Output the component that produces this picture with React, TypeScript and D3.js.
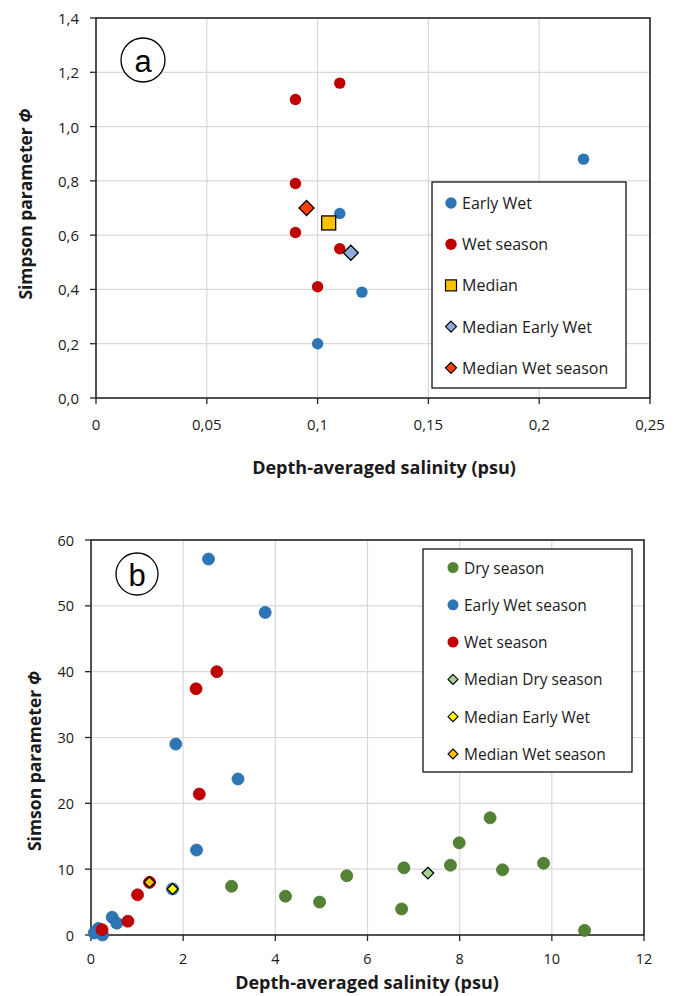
import React, { useEffect, useRef } from "react";
import * as d3 from "d3";

// ── Panel a data: [salinity, simpson] ─────────────────────────────────
const aEarlyWet = [[0.22, 0.88], [0.11, 0.68], [0.12, 0.39], [0.10, 0.20]];
const aWet = [[0.09, 1.10], [0.11, 1.16], [0.09, 0.79], [0.09, 0.61], [0.11, 0.55], [0.10, 0.41]];
const aMedian = [[0.105, 0.645]];
const aMedianEarlyWet = [[0.115, 0.535]];
const aMedianWet = [[0.095, 0.70]];
const aXTicks = [0, 0.05, 0.1, 0.15, 0.2, 0.25];
const aYTicks = [0, 0.2, 0.4, 0.6, 0.8, 1.0, 1.2, 1.4];

// ── Panel b data ──────────────────────────────────────────────────────
const bDry = [[3.05, 7.4], [4.22, 5.9], [4.96, 5.0], [5.55, 9.0], [6.79, 10.2], [6.74, 3.95],
  [7.80, 10.6], [7.99, 14.0], [8.66, 17.8], [8.93, 9.9], [9.82, 10.9], [10.71, 0.7]];
const bEarlyWet = [[2.55, 57.1], [3.78, 49.0], [1.84, 29.0], [3.19, 23.7], [2.29, 12.9], [0.46, 2.7],
  [0.56, 1.8], [0.16, 1.0], [0.07, 0.3], [0.25, 0.0], [1.77, 7.0]];
const bWet = [[2.73, 40.0], [2.28, 37.4], [2.35, 21.4], [1.01, 6.1], [0.80, 2.1], [0.24, 0.8], [1.27, 8.0]];
const bMedianDry = [[7.31, 9.4]];
const bMedianEarlyWet = [[1.77, 7.0]];
const bMedianWet = [[1.27, 8.0]];
const bXTicks = [0, 2, 4, 6, 8, 10, 12];
const bYTicks = [0, 10, 20, 30, 40, 50, 60];

const BLUE = "#2E75B6";
const RED = "#C00000";
const GREEN = "#548235";
const FONT = "'Open Sans', sans-serif";
const GRID = "#D9D9D9";
const AXIS = "#262626";

const comma = (v: number) => String(v).replace(".", ",");
const comma1 = (v: number) => v.toFixed(1).replace(".", ",");

const diamond = (s: number) => `M0,${-s}L${s},0L0,${s}L${-s},0Z`;

const App = () => {
  const svgRef = useRef<SVGSVGElement>(null);

  useEffect(() => {
    if (!svgRef.current) return;
    const svg = d3.select(svgRef.current);
    svg.selectAll("*").remove();

    const drawFrame = (x: any, y: any, xt: number[], yt: number[], fx: (v: number) => string,
      fy: (v: number) => string, tickFs: number, xLabY: number, yLabX: number) => {
      const [x0, x1] = x.range();
      const [y0, y1] = y.range();
      const g = svg.append("g");
      xt.slice(1).forEach(t => g.append("line").attr("x1", x(t)).attr("x2", x(t)).attr("y1", y0).attr("y2", y1)
        .attr("stroke", GRID).attr("stroke-width", 1.2));
      yt.slice(1).forEach(t => g.append("line").attr("x1", x0).attr("x2", x1).attr("y1", y(t)).attr("y2", y(t))
        .attr("stroke", GRID).attr("stroke-width", 1.2));
      // frame
      g.append("rect").attr("x", x0).attr("y", y1).attr("width", x1 - x0).attr("height", y0 - y1)
        .attr("fill", "none").attr("stroke", AXIS).attr("stroke-width", 1.6);
      xt.forEach(t => {
        g.append("line").attr("x1", x(t)).attr("x2", x(t)).attr("y1", y0).attr("y2", y0 + 6)
          .attr("stroke", AXIS).attr("stroke-width", 1.3);
        g.append("text").attr("x", x(t)).attr("y", xLabY).attr("text-anchor", "middle")
          .attr("dominant-baseline", "central").attr("font-family", FONT).attr("font-size", tickFs)
          .attr("fill", "#1a1a1a").text(fx(t));
      });
      yt.forEach(t => {
        g.append("line").attr("x1", x0 - 6).attr("x2", x0).attr("y1", y(t)).attr("y2", y(t))
          .attr("stroke", AXIS).attr("stroke-width", 1.3);
        g.append("text").attr("x", yLabX).attr("y", y(t)).attr("text-anchor", "end")
          .attr("dominant-baseline", "central").attr("font-family", FONT).attr("font-size", tickFs)
          .attr("fill", "#1a1a1a").text(fy(t));
      });
    };

    const dots = (x: any, y: any, data: number[][], color: string, r: number, stroke?: string) => {
      data.forEach(([a, b]) => svg.append("circle").attr("cx", x(a)).attr("cy", y(b)).attr("r", r)
        .attr("fill", color).attr("stroke", stroke ?? "none").attr("stroke-width", 0.8));
    };
    const diamonds = (x: any, y: any, data: number[][], color: string, s: number) => {
      data.forEach(([a, b]) => svg.append("path").attr("d", diamond(s))
        .attr("transform", `translate(${x(a)},${y(b)})`)
        .attr("fill", color).attr("stroke", "#000").attr("stroke-width", 1.3));
    };

    const titleY = (txt: string, cx: number, cy: number) => {
      const t = svg.append("text").attr("transform", `translate(${cx},${cy}) rotate(-90)`)
        .attr("text-anchor", "middle").attr("dominant-baseline", "central")
        .attr("font-family", FONT).attr("font-size", 17.5).attr("font-weight", 700).attr("fill", "#1a1a1a");
      t.append("tspan").text(txt + " ");
      t.append("tspan").attr("font-style", "italic").text("Φ");
    };
    const titleX = (txt: string, cx: number, cy: number) => {
      svg.append("text").attr("x", cx).attr("y", cy).attr("text-anchor", "middle")
        .attr("dominant-baseline", "central").attr("font-family", FONT).attr("font-size", 18)
        .attr("font-weight", 700).attr("fill", "#1a1a1a").text(txt);
    };
    const badge = (cx: number, cy: number, r: number, txt: string) => {
      svg.append("circle").attr("cx", cx).attr("cy", cy).attr("r", r).attr("fill", "#fff")
        .attr("stroke", "#000").attr("stroke-width", 1.3);
      svg.append("text").attr("x", cx).attr("y", cy + 1).attr("text-anchor", "middle")
        .attr("dominant-baseline", "central").attr("font-family", "'Liberation Sans', Arial, sans-serif")
        .attr("font-size", 31).attr("fill", "#000").text(txt);
    };

    // ── Panel a ──────────────────────────────────────────────────────
    const xa = d3.scaleLinear().domain([0, 0.25]).range([96, 650]);
    const ya = d3.scaleLinear().domain([0, 1.4]).range([398, 18]);
    drawFrame(xa, ya, aXTicks, aYTicks, v => comma(v), v => comma1(v), 15, 424, 79);
    badge(143, 60, 22, "a");
    dots(xa, ya, aEarlyWet, BLUE, 5.7);
    dots(xa, ya, aWet, RED, 5.7);
    aMedian.forEach(([a, b]) => svg.append("rect").attr("x", xa(a) - 7).attr("y", ya(b) - 7)
      .attr("width", 14).attr("height", 14).attr("fill", "#FFC000").attr("stroke", "#000").attr("stroke-width", 1.3));
    diamonds(xa, ya, aMedianEarlyWet, "#8FAADC", 7.5);
    diamonds(xa, ya, aMedianWet, "#FF4000", 7.5);
    titleY("Simpson parameter", 25, 204);
    titleX("Depth-averaged salinity (psu)", 384, 467);

    // legend a
    const la = svg.append("g");
    la.append("rect").attr("x", 432).attr("y", 182).attr("width", 194).attr("height", 206)
      .attr("fill", "#fff").attr("stroke", "#000").attr("stroke-width", 1.2);
    const legA = [
      { t: "Early Wet", k: "c", c: BLUE },
      { t: "Wet season", k: "c", c: RED },
      { t: "Median", k: "s", c: "#FFC000" },
      { t: "Median Early Wet", k: "d", c: "#8FAADC" },
      { t: "Median Wet season", k: "d", c: "#FF4000" },
    ];
    legA.forEach((d, i) => {
      const yy = 203 + i * 41.2;
      const mx = 451;
      if (d.k === "c") la.append("circle").attr("cx", mx).attr("cy", yy).attr("r", 5.7).attr("fill", d.c);
      else if (d.k === "s") la.append("rect").attr("x", mx - 5.5).attr("y", yy - 5.5).attr("width", 11).attr("height", 11)
        .attr("fill", d.c).attr("stroke", "#000").attr("stroke-width", 1.2);
      else la.append("path").attr("d", diamond(5.5)).attr("transform", `translate(${mx},${yy})`)
        .attr("fill", d.c).attr("stroke", "#000").attr("stroke-width", 1.2);
      la.append("text").attr("x", 462).attr("y", yy).attr("dominant-baseline", "central")
        .attr("font-family", FONT).attr("font-size", 16).attr("fill", "#1a1a1a").text(d.t);
    });

    // ── Panel b ──────────────────────────────────────────────────────
    const xb = d3.scaleLinear().domain([0, 12]).range([91, 644]);
    const yb = d3.scaleLinear().domain([0, 60]).range([935, 540]);
    drawFrame(xb, yb, bXTicks, bYTicks, v => String(v), v => String(v), 14.5, 958, 74);
    badge(137, 574, 21, "b");
    dots(xb, yb, bDry, GREEN, 6, "#4a7430");
    dots(xb, yb, bEarlyWet, BLUE, 6, "#2a6aa6");
    dots(xb, yb, bWet, RED, 6, "#b00000");
    diamonds(xb, yb, bMedianDry, "#A9D18E", 5.8);
    diamonds(xb, yb, bMedianEarlyWet, "#FFFF00", 5.5);
    diamonds(xb, yb, bMedianWet, "#FFC000", 5.5);
    titleY("Simson parameter", 34, 761);
    titleX("Depth-averaged salinity (psu)", 367, 982);

    const lb = svg.append("g");
    lb.append("rect").attr("x", 423).attr("y", 549).attr("width", 209).attr("height", 223)
      .attr("fill", "#fff").attr("stroke", "#000").attr("stroke-width", 1.2);
    const legB = [
      { t: "Dry season", k: "c", c: GREEN },
      { t: "Early Wet season", k: "c", c: BLUE },
      { t: "Wet season", k: "c", c: RED },
      { t: "Median Dry season", k: "d", c: "#A9D18E" },
      { t: "Median Early Wet", k: "d", c: "#FFFF00" },
      { t: "Median Wet season", k: "d", c: "#FFC000" },
    ];
    legB.forEach((d, i) => {
      const yy = 567.5 + i * 37.3;
      const mx = 453;
      if (d.k === "c") lb.append("circle").attr("cx", mx).attr("cy", yy).attr("r", 5.5).attr("fill", d.c);
      else lb.append("path").attr("d", diamond(5)).attr("transform", `translate(${mx},${yy})`)
        .attr("fill", d.c).attr("stroke", "#000").attr("stroke-width", 1.1);
      lb.append("text").attr("x", 464).attr("y", yy).attr("dominant-baseline", "central")
        .attr("font-family", FONT).attr("font-size", 15.5).attr("fill", "#1a1a1a").text(d.t);
    });
  }, []);

  return (
    <svg ref={svgRef} width={686} height={996}
      style={{ position: "absolute", left: 0, top: 0, background: "#fff" }} />
  );
};

export default App;
